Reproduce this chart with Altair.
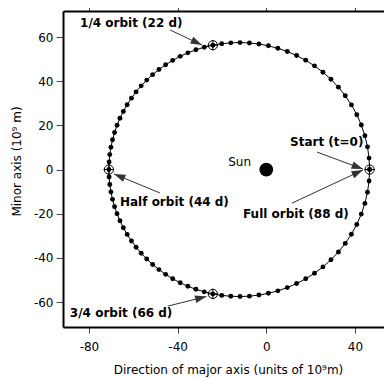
import math
import altair as alt
import pandas as pd

# ---- data ----
day = list(range(89))
orbit_x = [46.60, 46.36, 45.65, 44.48, 42.86, 40.83, 38.40, 35.63, 32.54, 29.17,
           25.56, 21.75, 17.78, 13.68, 9.49, 5.24, 0.96, -3.33, -7.60, -11.84,
           -16.01, -20.10, -24.09, -27.98, -31.75, -35.39, -38.83, -42.22, -45.40, -48.42,
           -51.27, -53.94, -56.42, -58.73, -60.82, -62.75, -64.47, -66.00, -67.32, -68.44,
           -69.36, -70.08, -70.59, -70.90, -71.00,
           -70.90, -70.59, -70.08, -69.36, -68.44, -67.32, -66.00, -64.47, -62.75, -60.82,
           -58.73, -56.42, -53.94, -51.27, -48.42, -45.40, -42.22, -38.83, -35.39, -31.75,
           -27.98, -24.09, -20.10, -16.01, -11.84, -7.60, -3.33, 0.96, 5.24, 9.49,
           13.68, 17.78, 21.75, 25.56, 29.17, 32.54, 35.63, 38.40, 40.83, 42.86,
           44.48, 45.65, 46.36, 46.60]
orbit_y = [0.00, 5.18, 10.29, 15.32, 20.18, 24.85, 29.28, 33.45, 37.31, 40.86,
           44.08, 46.95, 49.47, 51.63, 53.45, 54.92, 56.04, 56.84, 57.33, 57.50,
           57.38, 56.98, 56.31, 55.39, 54.23, 52.84, 51.27, 49.44, 47.45, 45.30,
           42.97, 40.50, 37.90, 35.16, 32.34, 29.37, 26.34, 23.21, 20.03, 16.79,
           13.49, 10.13, 6.78, 3.40, 0.00,
           -3.40, -6.78, -10.13, -13.49, -16.79, -20.03, -23.21, -26.34, -29.37, -32.34,
           -35.16, -37.90, -40.50, -42.97, -45.30, -47.45, -49.44, -51.27, -52.84, -54.23,
           -55.39, -56.31, -56.98, -57.38, -57.50, -57.33, -56.84, -56.04, -54.92, -53.45,
           -51.63, -49.47, -46.95, -44.08, -40.86, -37.31, -33.45, -29.28, -24.85, -20.18,
           -15.32, -10.29, -5.18, 0.00]

marker_days = [0, 22, 44, 66]

sun_x = [0.0]
sun_y = [0.0]
sun_label = ["Sun"]
sun_label_x = [-6.9]
sun_label_y = [3.4]

ann_text = ["1/4 orbit (22 d)", "Start (t=0)", "Full orbit (88 d)",
            "Half orbit (44 d)", "3/4 orbit (66 d)"]
ann_text_x = [-84.0, 10.7, -10.5, -66.0, -88.6]
ann_text_y = [66.5, 12.5, -20.2, -14.7, -65.0]
arrow_x = [-43.4, 22.9, 11.6, -48.0, -44.3]
arrow_y = [63.2, 7.9, -15.2, -10.6, -61.8]
arrow_x2 = [-29.0, 43.6, 43.6, -68.7, -27.0]
arrow_y2 = [56.4, 0.2, -0.2, -2.0, -57.5]

x_ticks = [-80, -40, 0, 40]
y_ticks = [-60, -40, -20, 0, 20, 40, 60]
x_domain = [-91.7, 53.1]
y_domain = [-71.3, 71.8]

W, H = 321, 316
FONT = "DejaVu Sans"

# ---- tables ----
orbit = pd.DataFrame({"day": day, "x": orbit_x, "y": orbit_y})
markers = orbit[orbit["day"].isin(marker_days)]
sun = pd.DataFrame({"x": sun_x, "y": sun_y})
sun_lab = pd.DataFrame({"x": sun_label_x, "y": sun_label_y, "t": sun_label})
ann = pd.DataFrame({"x": ann_text_x, "y": ann_text_y, "t": ann_text})
px_x = W / (x_domain[1] - x_domain[0])
px_y = H / (y_domain[1] - y_domain[0])
angles = [math.degrees(math.atan2(-(y2 - y1) * px_y, (x2 - x1) * px_x)) % 360
          for x1, y1, x2, y2 in zip(arrow_x, arrow_y, arrow_x2, arrow_y2)]
arrows = pd.DataFrame({"x": arrow_x, "y": arrow_y, "x2": arrow_x2, "y2": arrow_y2,
                       "ang": angles})

xs = alt.Scale(domain=x_domain, nice=False, zero=False)
ys = alt.Scale(domain=y_domain, nice=False, zero=False)

x_axis = alt.Axis(values=x_ticks, title="Direction of major axis (units of 10\u2079m)",
                  labelExpr="'' + datum.value", grid=False,
                  domainColor="black", domainWidth=2, tickColor="#444", tickWidth=1,
                  tickSize=6, labelFont=FONT, labelFontSize=12, labelColor="black",
                  labelPadding=8, titleFont=FONT, titleFontSize=12,
                  titleFontWeight="normal", titleColor="black", titlePadding=12,
                  titleX=165)
y_axis = alt.Axis(values=y_ticks, title="Minor axis (10\u2079 m)",
                  labelExpr="'' + datum.value", grid=False,
                  domainColor="black", domainWidth=2, tickColor="#444", tickWidth=1,
                  tickSize=7, labelFont=FONT, labelFontSize=12, labelColor="black",
                  labelPadding=3, titleFont=FONT, titleFontSize=12,
                  titleFontWeight="normal", titleColor="black", titlePadding=10,
                  titleY=150)
top_axis = alt.Axis(values=x_ticks, orient="top", labels=False, title=None, grid=False,
                    domainColor="black", domainWidth=2, tickColor="#444", tickWidth=1,
                    tickSize=8)

X = alt.X("x:Q", scale=xs, axis=x_axis)
Y = alt.Y("y:Q", scale=ys, axis=y_axis)

line = alt.Chart(orbit).mark_line(color="black", strokeWidth=1).encode(
    x=X, y=Y, order="day:Q")
dots = alt.Chart(orbit).mark_circle(color="black", size=24, opacity=1).encode(x=X, y=Y)
ring = alt.Chart(markers).mark_point(shape="circle", filled=False, color="black",
                                     size=85, strokeWidth=1, opacity=1).encode(x=X, y=Y)
plus = alt.Chart(markers).mark_point(shape="M-1,0L1,0M0,-1L0,1", filled=False,
                                     color="black", size=110, strokeWidth=1,
                                     opacity=1).encode(x=X, y=Y)
sun_pt = alt.Chart(sun).mark_circle(color="black", size=190, opacity=1).encode(x=X, y=Y)
sun_txt = alt.Chart(sun_lab).mark_text(font=FONT, fontSize=12, align="right",
                                       baseline="middle", color="black").encode(
    x=X, y=Y, text="t:N")
rules = alt.Chart(arrows).mark_rule(color="#333", strokeWidth=1).encode(
    x=X, y=Y, x2="x2:Q", y2="y2:Q")
heads = alt.Chart(arrows).mark_point(shape="M0,0L-2.4,-0.8L-2.4,0.8Z", filled=True,
                                     color="#333", size=90, opacity=1).encode(
    x=alt.X("x2:Q", scale=xs, axis=x_axis), y=alt.Y("y2:Q", scale=ys, axis=y_axis),
    angle=alt.Angle("ang:Q", scale=None))
labels = alt.Chart(ann).mark_text(font=FONT, fontSize=12, fontWeight="bold",
                                  align="left", baseline="middle", color="black").encode(
    x=X, y=Y, text="t:N")

main = alt.layer(line, dots, ring, plus, sun_pt, sun_txt, rules, heads, labels)
top = alt.Chart(orbit).mark_point(opacity=0).encode(
    x=alt.X("x:Q", scale=xs, axis=top_axis), y=alt.Y("y:Q", scale=ys, axis=y_axis))

chart = alt.layer(main, top).resolve_axis(x="independent").properties(
    width=W, height=H,
    autosize=alt.AutoSizeParams(type="none"),
    padding={"left": 55, "top": 3, "right": 0, "bottom": 50},
).configure_view(stroke=None)

chart.save("out.html", embed_options={"renderer": "svg", "actions": False})
